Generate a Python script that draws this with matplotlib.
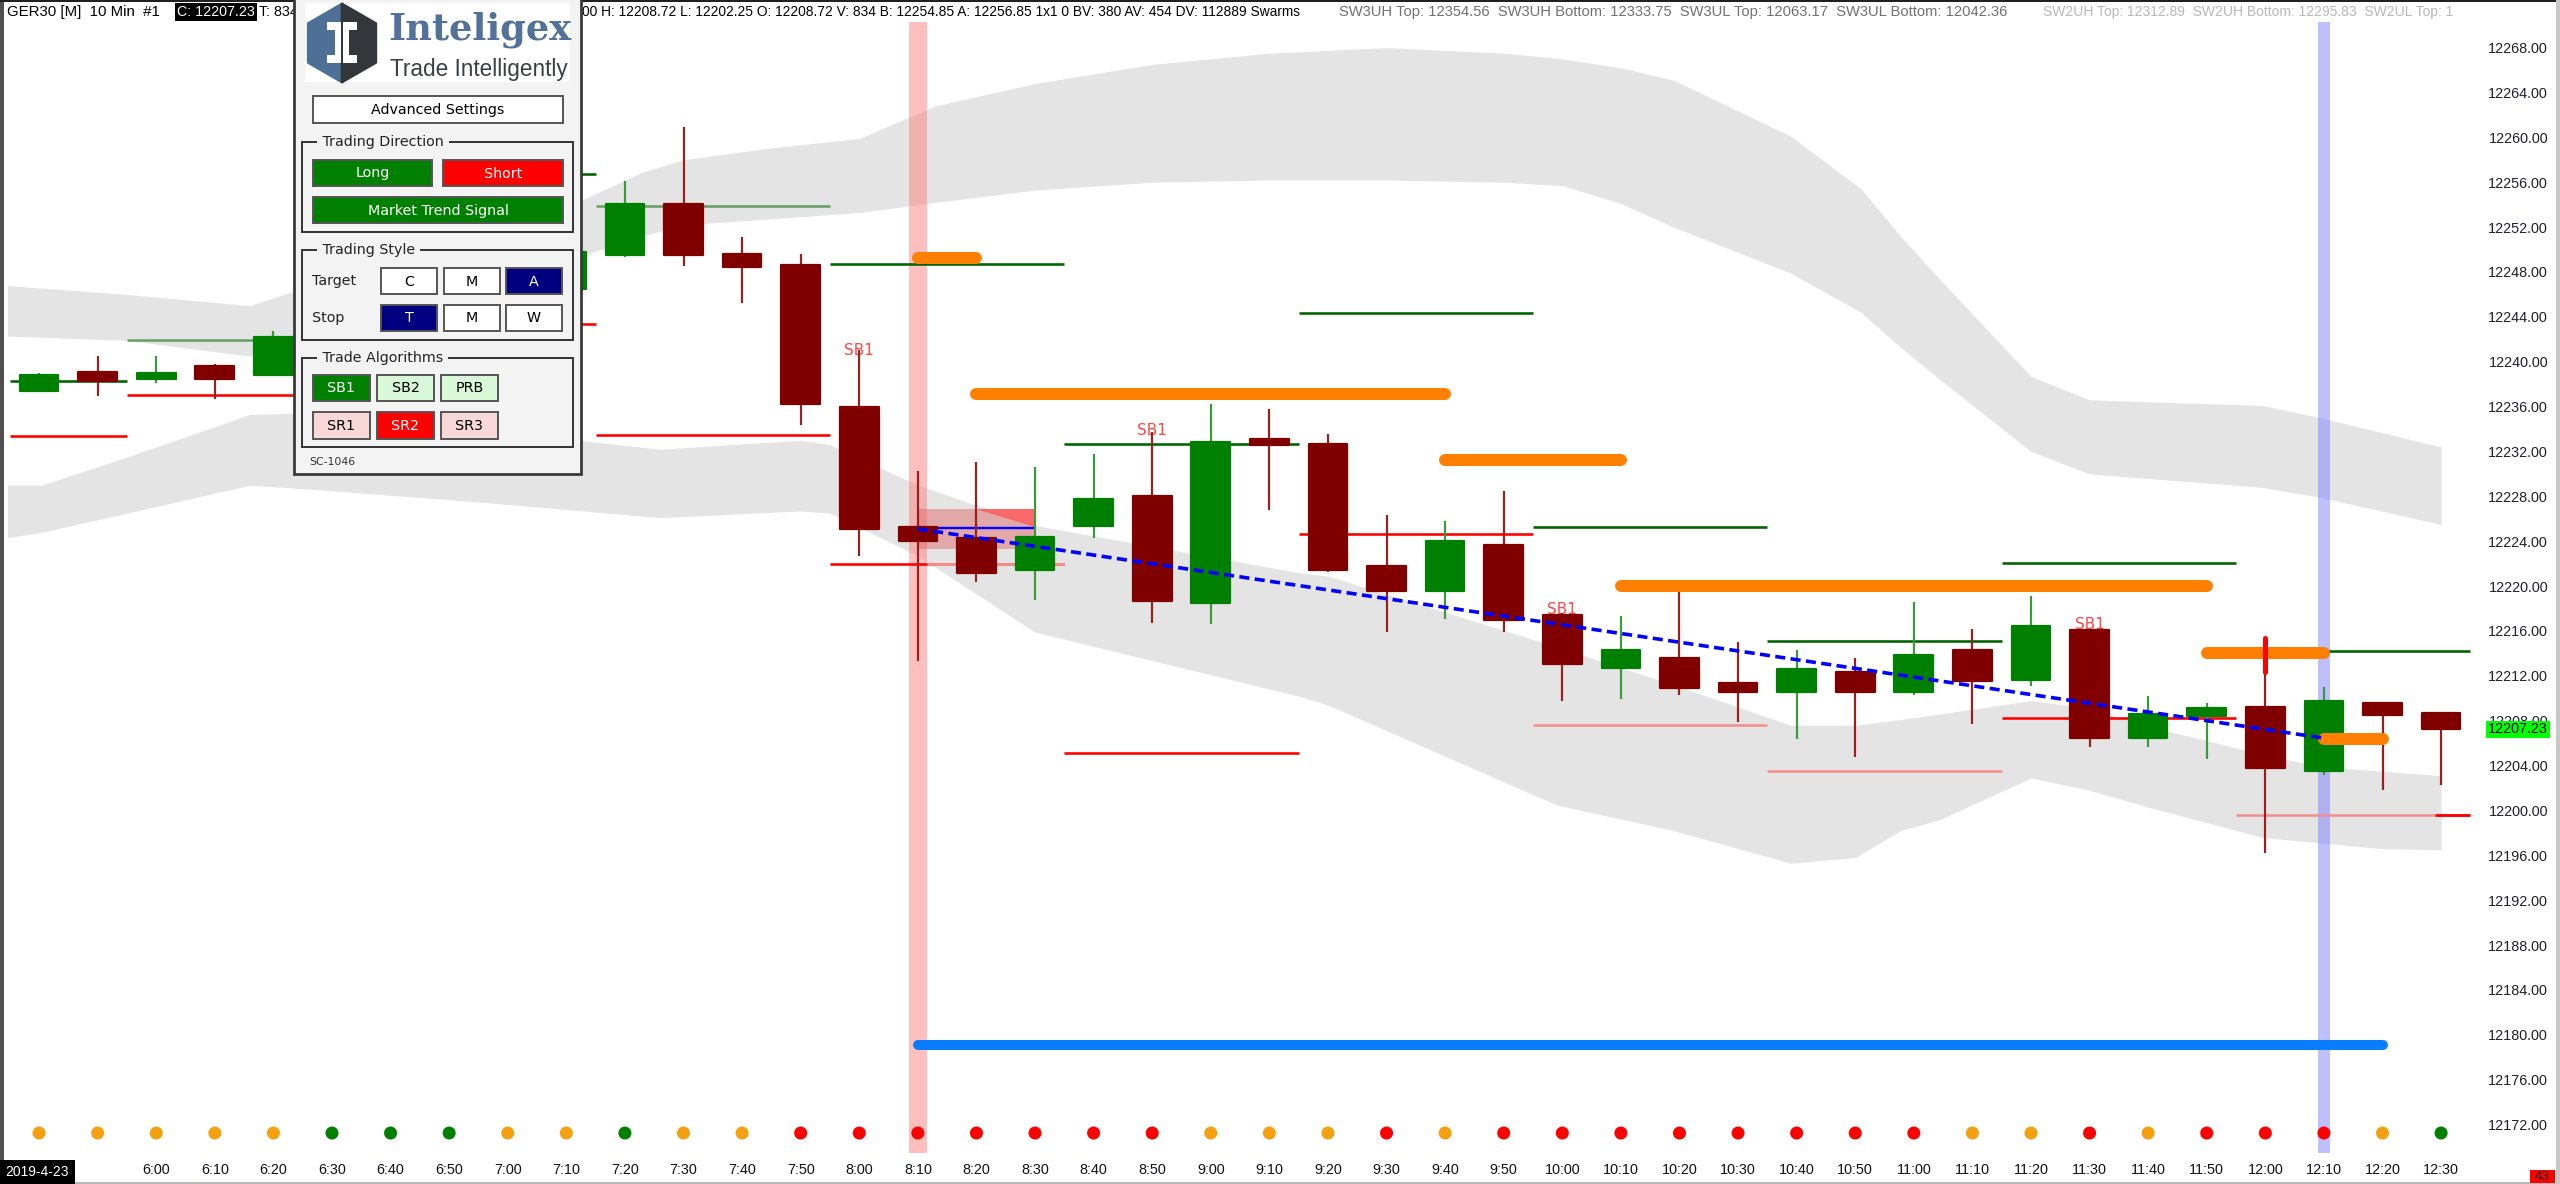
import matplotlib
matplotlib.use('Agg')
import matplotlib.pyplot as plt
import matplotlib.transforms as mtransforms
from matplotlib.patches import Rectangle, Polygon

plt.rcParams['font.family'] = ['Liberation Sans', 'DejaVu Sans']

# ------------------------------------------------------------------ data
times = ['5:40', '5:50', '6:00', '6:10', '6:20', '6:30', '6:40', '6:50', '7:00', '7:10',
         '7:20', '7:30', '7:40', '7:50', '8:00', '8:10', '8:20', '8:30', '8:40', '8:50',
         '9:00', '9:10', '9:20', '9:30', '9:40', '9:50', '10:00', '10:10', '10:20', '10:30',
         '10:40', '10:50', '11:00', '11:10', '11:20', '11:30', '11:40', '11:50', '12:00', '12:10',
         '12:20', '12:30']
opens = [12237.4, 12239.1, 12238.5, 12239.6, 12238.8, 12242.2, 12244.5, 12246.0, 12245.2, 12246.5,
         12249.5, 12254.1, 12249.6, 12248.6, 12236.0, 12225.3, 12224.3, 12221.4, 12225.4, 12228.0,
         12218.5, 12233.1, 12232.7, 12221.8, 12219.6, 12223.7, 12217.4, 12212.7, 12213.6, 12211.4,
         12210.6, 12212.3, 12210.6, 12214.3, 12211.6, 12216.1, 12206.5, 12208.4, 12209.2, 12203.5,
         12209.6, 12208.72]
highs = [12239.0, 12240.5, 12240.5, 12239.8, 12242.7, 12245.0, 12247.0, 12248.0, 12248.5, 12250.5,
         12256.1, 12260.9, 12251.1, 12249.6, 12241.0, 12230.3, 12231.1, 12230.6, 12231.8, 12233.7,
         12236.2, 12235.8, 12233.6, 12226.3, 12225.8, 12228.5, 12217.6, 12217.3, 12219.5, 12215.0,
         12214.3, 12213.6, 12218.6, 12216.2, 12219.1, 12216.2, 12210.2, 12209.6, 12215.4, 12211.0,
         12209.6, 12208.72]
lows = [12237.3, 12236.9, 12238.1, 12236.7, 12238.8, 12241.5, 12243.5, 12244.5, 12244.8, 12246.0,
        12249.3, 12248.5, 12245.2, 12234.4, 12222.7, 12213.3, 12220.4, 12218.8, 12224.3, 12216.7,
        12216.6, 12226.8, 12221.3, 12215.9, 12217.1, 12215.9, 12209.8, 12209.9, 12210.3, 12207.9,
        12206.4, 12204.8, 12210.3, 12207.7, 12211.1, 12205.7, 12205.7, 12204.6, 12196.2, 12203.2,
        12201.8, 12202.25]
closes = [12238.8, 12238.3, 12239.0, 12238.5, 12242.2, 12244.5, 12246.0, 12245.2, 12247.0, 12249.8,
          12254.1, 12249.5, 12248.4, 12236.2, 12225.1, 12224.0, 12221.2, 12224.4, 12227.8, 12218.7,
          12232.8, 12232.6, 12221.4, 12219.6, 12224.0, 12217.0, 12213.1, 12214.3, 12210.9, 12210.6,
          12212.6, 12210.6, 12213.9, 12211.5, 12216.4, 12206.5, 12208.6, 12209.1, 12203.8, 12209.8,
          12208.5, 12207.23]
last_price = 12207.23

# signal dots below the bars (O = neutral, G = long, R = short)
dot_states = ['O', 'O', 'O', 'O', 'O', 'G', 'G', 'G', 'O', 'O', 'G', 'O', 'O', 'R', 'R', 'R',
              'R', 'R', 'R', 'R', 'O', 'O', 'O', 'R', 'O', 'R', 'R', 'R', 'R', 'R', 'R', 'R',
              'R', 'O', 'O', 'R', 'O', 'R', 'R', 'R', 'O', 'G']
dot_level = 12171.25

# swarm bands (x in bar index units)
ub_x = [-0.56, 1.5, 3.6, 6.5, 9.3, 10.3, 11.0, 12.4, 14.0, 15.3, 17.0, 19.0, 21.0, 23.0, 25.0,
        26.0, 27.0, 27.9, 29.9, 31.1, 31.77, 32.45, 34.0, 35.0, 37.95, 38.95, 41.0]
ub_top = [12246.8, 12246.0, 12245.0, 12250.0, 12254.5, 12256.9, 12258.0, 12259.0, 12259.9, 12262.8,
          12264.8, 12266.5, 12267.5, 12268.0, 12267.5, 12267.0, 12266.2, 12265.1, 12260.1, 12255.4,
          12251.2, 12247.3, 12238.7, 12236.6, 12236.1, 12235.0, 12232.4]
ub_bot = [12242.3, 12241.9, 12240.5, 12245.0, 12249.5, 12251.2, 12252.2, 12252.7, 12253.3, 12254.2,
          12255.3, 12256.0, 12256.2, 12256.2, 12256.0, 12255.7, 12254.1, 12252.0, 12247.9, 12244.4,
          12241.3, 12238.4, 12232.0, 12230.0, 12228.8, 12227.9, 12225.5]
lb_x = [-0.56, 0.05, 1.5, 3.6, 5.0, 7.5, 10.6, 13.0, 13.5, 15.0, 17.0, 21.5, 22.0, 25.9, 27.9,
        29.9, 31.0, 31.77, 32.45, 34.0, 35.0, 36.0, 37.95, 38.95, 40.0, 41.0]
lb_top = [12229.0, 12229.0, 12231.5, 12235.3, 12235.5, 12234.0, 12232.2, 12233.0, 12232.6, 12229.0,
          12225.4, 12221.2, 12220.9, 12214.6, 12211.2, 12207.6, 12207.6, 12208.1, 12208.6, 12209.8,
          12209.1, 12207.5, 12205.0, 12203.9, 12203.5, 12203.1]
lb_bot = [12224.3, 12224.8, 12226.5, 12229.0, 12228.5, 12227.5, 12226.1, 12226.7, 12226.5, 12222.7,
          12215.9, 12210.2, 12209.4, 12200.5, 12198.2, 12195.3, 12195.8, 12198.2, 12199.2, 12202.9,
          12201.8, 12200.3, 12197.6, 12197.1, 12196.6, 12196.5]

# target / stop levels per segment
seg_start = [-0.5, 1.5, 5.5, 9.5, 13.5, 17.5, 21.5, 25.5, 29.5, 33.5, 37.5]
seg_end = [1.5, 5.5, 9.5, 13.5, 17.5, 21.5, 25.5, 29.5, 33.5, 37.5, 41.5]
target_px = [12238.3, 12241.9, 12256.7, 12253.9, 12248.7, 12232.7, 12244.3, 12225.3, 12215.1,
             12222.1, 12214.2]
target_faded = [0, 1, 0, 1, 0, 0, 0, 0, 0, 0, 0]
stop_px = [12233.4, 12237.0, 12243.4, 12233.5, 12222.0, 12205.1, 12224.6, 12207.6, 12203.5,
           12208.2, 12199.6]
stop_faded = [0, 0, 0, 0, 0, 0, 0, 1, 1, 0, 1]
# portions of stop segments that are drawn faded / bright
stop_fade_start = [15.15]
stop_fade_end = [17.5]
stop_fade_px = [12222.0]
stop_bright_start = [40.9]
stop_bright_end = [41.5]
stop_bright_px = [12199.6]

# thick orange levels
orange_start = [15, 16, 24, 27, 37, 39]
orange_end = [16, 24, 27, 37, 39, 40]
orange_px = [12249.2, 12237.1, 12231.2, 12220.0, 12214.0, 12206.4]

# blue long-range target
blue_start, blue_end, blue_px = 15, 40, 12179.1

# trend line
trend_x = [15, 39]
trend_y = [12225.1, 12206.45]

# entry zone
entry_x = [15, 17]
entry_lo, entry_hi, entry_line = 12223.3, 12226.9, 12225.2

# red entry tick
tick_bar, tick_lo, tick_hi = 38, 12212.3, 12215.4

# SB1 signals
sb_bars = [14, 19, 26, 35]
sb_px = [12241.0, 12233.9, 12217.9, 12216.6]

# highlighted bars
pink_bar, lav_bar = 15, 39

price_ticks = list(range(12172, 12269, 4))

# ------------------------------------------------------------------ figure
W, H, DPI = 2560, 1184, 100
PX = 72.0 / DPI
fig = plt.figure(figsize=(W / DPI, H / DPI), dpi=DPI, facecolor='white')
L_PX, R_PX, T_PX, B_PX = 8, 2478, 22, 1153
ax = fig.add_axes([L_PX / W, 1 - B_PX / H, (R_PX - L_PX) / W, (B_PX - T_PX) / H], zorder=1)
ax.set_xlim(-0.53, 41.63)
ax.set_ylim(12169.47, 12270.28)
for s in ax.spines.values():
    s.set_visible(False)
ax.set_facecolor('white')

n = len(times)
xs = list(range(n))

# bands
ax.fill_between(ub_x, ub_bot, ub_top, color='#e4e4e4', lw=0, zorder=1)
ax.fill_between(lb_x, lb_bot, lb_top, color='#e4e4e4', lw=0, zorder=1)

# vertical highlight bars
ax.axvspan(pink_bar - 0.15, pink_bar + 0.15, color='#ff8080', alpha=0.5, lw=0, zorder=2)
ax.axvspan(lav_bar - 0.105, lav_bar + 0.105, color='#8080ff', alpha=0.5, lw=0, zorder=2)

# target/stop levels
t_cols = ['#6a9f6a' if f else '#006400' for f in target_faded]
s_cols = ['#f29090' if f else '#ff0000' for f in stop_faded]
ax.hlines(target_px, seg_start, seg_end, colors=t_cols, lw=2.6 * PX, zorder=3)
ax.hlines(stop_px, seg_start, seg_end, colors=s_cols, lw=2.6 * PX, zorder=3)
ax.hlines(stop_fade_px, stop_fade_start, stop_fade_end, colors='#f29090', lw=2.8 * PX, zorder=3.05)
ax.hlines(stop_bright_px, stop_bright_start, stop_bright_end, colors='#ff0000', lw=2.8 * PX, zorder=3.05)

# entry zone
ax.fill_between(entry_x, [entry_lo] * 2, [entry_hi] * 2, color='#e06060', alpha=0.45, lw=0, zorder=3.1)
ax.fill([entry_x[0] + 1, entry_x[1], entry_x[1]], [entry_hi, entry_hi, entry_line + 0.1],
        color='#ff5050', alpha=0.75, lw=0, zorder=3.1)
ax.hlines([entry_line], [entry_x[0]], [entry_x[1]], colors='#0000ff', lw=2.4 * PX, zorder=3.2)

# SB1 labels (under candles)
for b, p in zip(sb_bars, sb_px):
    ax.text(b, p, 'SB1', color='#ff4545', ha='center', va='center', fontsize=11,
            family='DejaVu Sans', zorder=3.5)

# candles
up = [c >= o for o, c in zip(opens, closes)]
body_cols = ['#008000' if u else '#800000' for u in up]
wick_cols = ['#3a9a3a' if u else '#9a2020' for u in up]
ax.vlines(xs, lows, highs, colors=wick_cols, lw=2.2 * PX, zorder=4)
bottoms = [min(o, c) for o, c in zip(opens, closes)]
heights = [abs(c - o) for o, c in zip(opens, closes)]
bars = ax.bar(xs, heights, bottom=bottoms, width=0.66, color=body_cols, edgecolor=body_cols,
              linewidth=1.6, zorder=4.5)
for r in bars:
    r.set_joinstyle('round')

# orange levels, blue target
ax.hlines(orange_px, orange_start, orange_end, colors='#ff8000', lw=12 * PX, capstyle='round', zorder=6)
ax.hlines([blue_px], [blue_start], [blue_end], colors='#0a7cff', lw=10 * PX, capstyle='round', zorder=6)

# trend line
ax.plot(trend_x, trend_y, color='#0000ff', lw=3.6 * PX, ls=(0, (2.8, 1.5)), zorder=7)

# entry tick
ax.vlines([tick_bar], [tick_lo], [tick_hi], colors='#ff0000', lw=5 * PX, capstyle='round', zorder=8)

# signal dots
dot_map = {'O': '#f4a010', 'G': '#008000', 'R': '#ff0000'}
ax.scatter(xs, [dot_level] * n, s=88, c=[dot_map[d] for d in dot_states], lw=0, zorder=5)

# axes ticks
ax.yaxis.tick_right()
ax.set_yticks(price_ticks)
ax.set_yticklabels([f'{v:.2f}' for v in price_ticks])
ax.tick_params(axis='y', length=0, pad=(2548 - R_PX) * PX, labelsize=10.4, labelcolor='#202030')
for lab in ax.get_yticklabels():
    lab.set_horizontalalignment('right')
ax.set_xticks(xs[2:])
ax.set_xticklabels(times[2:])
ax.tick_params(axis='x', length=0, pad=7.5, labelsize=10.4, labelcolor='#101020')

blend = mtransforms.blended_transform_factory(ax.transAxes, ax.transData)
ax.text((2548 - L_PX) / (R_PX - L_PX), last_price, f'{last_price:.2f}', transform=blend,
        ha='right', va='center', fontsize=10.4, color='black', clip_on=False, zorder=10,
        bbox=dict(boxstyle='square,pad=0.12', fc='#00ff00', ec='none'))

# ------------------------------------------------------------------ overlay (pixel coords)
ov = fig.add_axes([0, 0, 1, 1], zorder=10)
ov.set_xlim(0, W)
ov.set_ylim(H, 0)
ov.axis('off')
ov.patch.set_alpha(0)

# borders
ov.add_patch(Rectangle((0, 0), 4, H, fc='#505050', ec='none', zorder=1))
ov.add_patch(Rectangle((0, 0), W, 1.5, fc='#202020', ec='none', zorder=1))
ov.add_patch(Rectangle((0, 1182), W, 2, fc='#b8b8b8', ec='none', zorder=1))
ov.add_patch(Rectangle((2556, 0), 4, H, fc='#c8c8c8', ec='none', zorder=1))

# header
hy = 12
hfs = 10.3
ov.text(7, hy, 'GER30 [M]  10 Min  #1', fontsize=10.8, va='center', ha='left', color='black', zorder=2)
ov.text(177, hy, 'C: 12207.23', fontsize=hfs, va='center', ha='left', color='white', zorder=2,
        bbox=dict(boxstyle='square,pad=0.15', fc='black', ec='none'))
ov.text(259, hy, 'T: 834', fontsize=hfs, va='center', ha='left', color='black', zorder=2)
ov.text(582, hy, '00 H: 12208.72 L: 12202.25 O: 12208.72 V: 834 B: 12254.85 A: 12256.85 1x1 0 '
        'BV: 380 AV: 454 DV: 112889 Swarms', fontsize=9.9, va='center', ha='left', color='black', zorder=2)
ov.text(1339, hy, 'SW3UH Top: 12354.56  SW3UH Bottom: 12333.75  SW3UL Top: 12063.17  '
        'SW3UL Bottom: 12042.36', fontsize=10.6, va='center', ha='left', color='#707070', zorder=2)
ov.text(2043, hy, 'SW2UH Top: 12312.89  SW2UH Bottom: 12295.83  SW2UL Top: 1',
        fontsize=10.0, va='center', ha='left', color='#b8b8b8', zorder=2)

# date box & bar counter
ov.add_patch(Rectangle((0, 1160), 75, 24, fc='black', ec='none', zorder=2))
ov.text(37, 1172, '2019-4-23', fontsize=10, color='white', ha='center', va='center', zorder=3)
ov.add_patch(Rectangle((2530, 1170), 25, 13, fc='#ff0000', ec='none', zorder=2))
ov.text(2542, 1177, '43', fontsize=9.5, color='#202020', ha='center', va='center', zorder=3)

# ---- control panel
PZ = 20
ov.add_patch(Rectangle((294, -2), 287, 476, fc='#f3f3f3', ec='#3a3a3a', lw=2, zorder=PZ))
ov.add_patch(Rectangle((305, 3), 265, 79, fc='white', ec='none', zorder=PZ + 1))
cx, cy, R = 342, 43, 39
k = 0.866 * R
ov.add_patch(Polygon([(cx, cy - R), (cx - k, cy - R / 2), (cx - k, cy + R / 2), (cx, cy + R)],
                     closed=True, fc='#4e6f96', ec='#4e6f96', lw=2, joinstyle='round', zorder=PZ + 2))
ov.add_patch(Polygon([(cx, cy - R), (cx + k, cy - R / 2), (cx + k, cy + R / 2), (cx, cy + R)],
                     closed=True, fc='#33373b', ec='#33373b', lw=2, joinstyle='round', zorder=PZ + 2))
ov.add_patch(Rectangle((cx - 15, cy - 21), 30, 8, fc='white', ec='none', zorder=PZ + 3))
ov.add_patch(Rectangle((cx - 7, cy - 13), 14, 26, fc='white', ec='none', zorder=PZ + 3))
ov.add_patch(Rectangle((cx - 15, cy + 12), 30, 8, fc='white', ec='none', zorder=PZ + 3))
ov.add_patch(Rectangle((cx - 0.8, cy - 23), 1.6, 46, fc='#33373b', ec='none', zorder=PZ + 4))
ov.text(388, 39, 'Inteligex', family='DejaVu Serif', fontweight='bold', fontsize=26.5,
        color='#52729b', ha='left', va='baseline', zorder=PZ + 3)
ov.text(390, 76, 'Trade Intelligently', fontsize=16.3, color='#3b4046', ha='left',
        va='baseline', zorder=PZ + 3)

pfs = 10.3
PF = 'DejaVu Sans'


def button(x0, y0, x1, y1, label, fc, tc):
    ov.add_patch(Rectangle((x0, y0), x1 - x0, y1 - y0, fc=fc, ec='#555555', lw=1.4, zorder=PZ + 2))
    ov.text((x0 + x1) / 2, (y0 + y1) / 2 + 0.5, label, color=tc, ha='center', va='center',
            fontsize=pfs, family=PF, zorder=PZ + 3)


def group(y0, y1, title):
    ov.add_patch(Rectangle((302, y0), 271, y1 - y0, fc='none', ec='#333333', lw=1.4, zorder=PZ + 1))
    ov.text(318, y0, ' ' + title + ' ', ha='left', va='center', fontsize=pfs, family=PF,
            color='#222222', zorder=PZ + 3,
            bbox=dict(boxstyle='square,pad=0.05', fc='#f3f3f3', ec='none'))


button(313, 96, 563, 123, 'Advanced Settings', 'white', 'black')
group(142, 232, 'Trading Direction')
button(313, 160, 432, 186, 'Long', '#008000', 'white')
button(443, 160, 563, 186, 'Short', '#ff0000', 'white')
button(313, 197, 563, 223, 'Market Trend Signal', '#008000', 'white')
group(250, 340, 'Trading Style')
ov.text(312, 281, 'Target', ha='left', va='center', fontsize=pfs, family=PF, color='#222222', zorder=PZ + 3)
ov.text(312, 318, 'Stop', ha='left', va='center', fontsize=pfs, family=PF, color='#222222', zorder=PZ + 3)
button(381, 268, 437, 294, 'C', 'white', 'black')
button(444, 268, 500, 294, 'M', 'white', 'black')
button(506, 268, 562, 294, 'A', '#000080', 'white')
button(381, 305, 437, 331, 'T', '#000080', 'white')
button(444, 305, 500, 331, 'M', 'white', 'black')
button(506, 305, 562, 331, 'W', 'white', 'black')
group(358, 447, 'Trade Algorithms')
button(313, 375, 370, 401, 'SB1', '#008000', 'white')
button(377, 375, 434, 401, 'SB2', '#d8f8d8', 'black')
button(441, 375, 498, 401, 'PRB', '#d8f8d8', 'black')
button(313, 412, 370, 439, 'SR1', '#f8d8d8', 'black')
button(377, 412, 434, 439, 'SR2', '#ff0000', 'white')
button(441, 412, 498, 439, 'SR3', '#f8d8d8', 'black')
ov.text(309, 462, 'SC-1046', ha='left', va='center', fontsize=7.8, family=PF, color='#333333', zorder=PZ + 3)

fig.savefig('out.png', dpi=DPI, facecolor='white')
